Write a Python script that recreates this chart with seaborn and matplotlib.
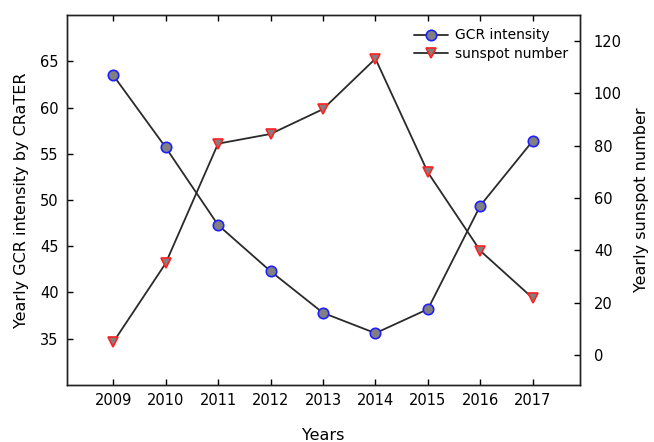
import matplotlib
matplotlib.use("Agg")
import matplotlib.pyplot as plt
import seaborn as sns
import pandas as pd

years = [2009, 2010, 2011, 2012, 2013, 2014, 2015, 2016, 2017]
gcr_intensity = [63.5, 55.7, 47.3, 42.3, 37.8, 35.6, 38.2, 49.4, 56.4]
sunspot_number = [4.8, 35.0, 80.8, 84.5, 94.0, 113.3, 69.8, 39.8, 21.7]

df = pd.DataFrame({"year": years, "gcr": gcr_intensity, "sunspot": sunspot_number})

sns.set_style("ticks")
plt.rcParams["font.family"] = ["DejaVu Sans"]
plt.rcParams["text.color"] = "black"
plt.rcParams["axes.labelcolor"] = "black"
plt.rcParams["xtick.color"] = "black"
plt.rcParams["ytick.color"] = "black"

fig = plt.figure(figsize=(6.54, 4.42), dpi=100)
ax = fig.add_axes([0.1024, 0.129, 0.7845, 0.837])
ax2 = ax.twinx()

line_kw = dict(color="#2a2a2a", linewidth=1.3, markersize=7.5,
               markerfacecolor="#808080", markeredgewidth=1.2)

sns.lineplot(data=df, x="year", y="gcr", ax=ax, marker="o",
             markeredgecolor="#2020ff", label="GCR intensity", legend=False, **line_kw)
sns.lineplot(data=df, x="year", y="sunspot", ax=ax2, marker="v",
             markeredgecolor="#ff2020", label="sunspot number", legend=False, **line_kw)

ax.set_xlim(2008.12, 2017.9)
ax.set_ylim(30, 70)
ax2.set_ylim(-11.5, 130)
ax.set_xticks(years)
ax.set_xticklabels([str(y) for y in years])
ax.set_yticks([35, 40, 45, 50, 55, 60, 65])
ax2.set_yticks([0, 20, 40, 60, 80, 100, 120])

ax.tick_params(axis="x", direction="in", top=True, length=4, width=1, labelsize=10.5, pad=6)
ax.tick_params(axis="y", direction="in", right=False, length=4, width=1, labelsize=10.5, pad=6)
ax2.tick_params(axis="y", direction="in", length=4, width=1, labelsize=10.5, pad=10)

for a in (ax, ax2):
    for s in a.spines.values():
        s.set_linewidth(1.0)
        s.set_color("#222222")

ax.set_xlabel("Years", fontsize=11.5, labelpad=14)
ax.set_ylabel("Yearly GCR intensity by CRaTER", fontsize=11.5, labelpad=8)
ax2.set_ylabel("Yearly sunspot number", fontsize=11.5, labelpad=9)

h1, l1 = ax.get_legend_handles_labels()
h2, l2 = ax2.get_legend_handles_labels()
ax2.legend(h1 + h2, l1 + l2, loc="upper right", bbox_to_anchor=(0.995, 0.99),
           frameon=False, fontsize=10, handlelength=2.4, handletextpad=0.5,
           labelspacing=0.3, borderaxespad=0.3)

fig.savefig("out.png", dpi=100)
